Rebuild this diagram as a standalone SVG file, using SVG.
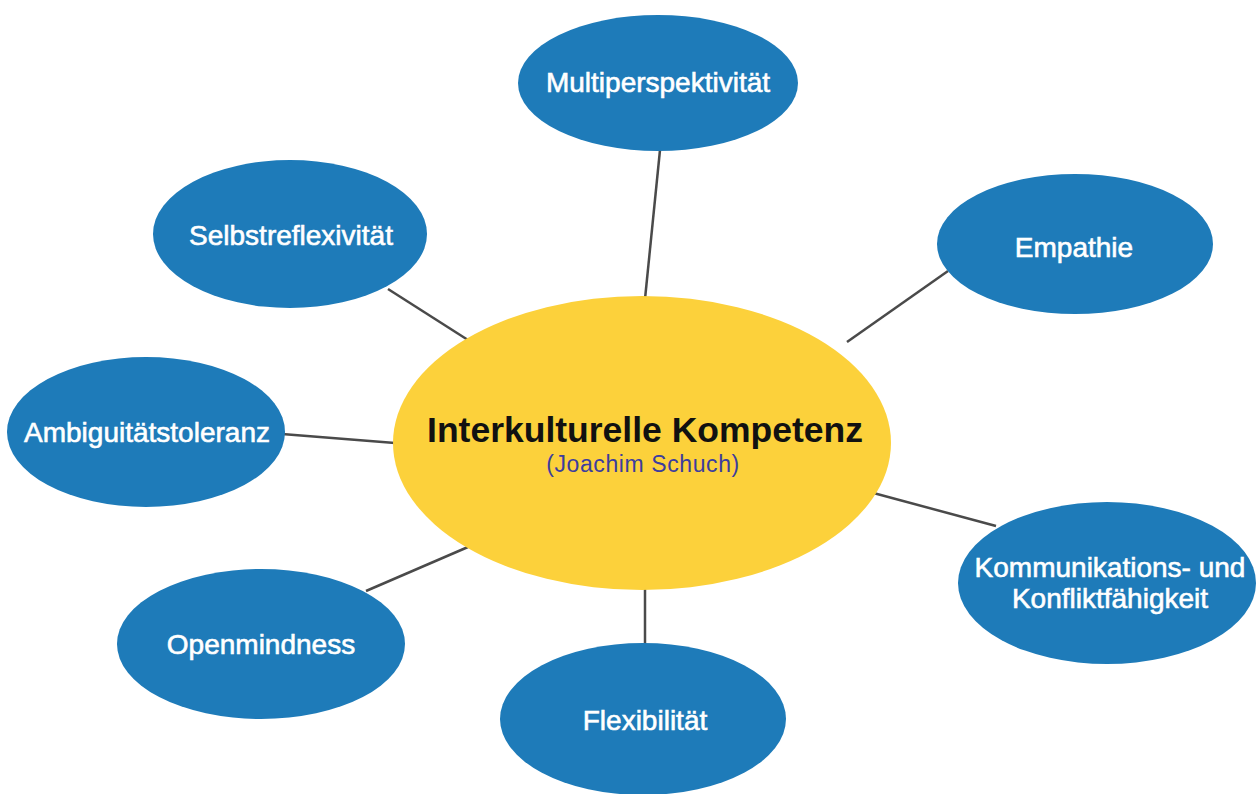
<svg xmlns="http://www.w3.org/2000/svg" width="1258" height="794" viewBox="0 0 1258 794">
<style>
.n{fill:#1e7bb9}
.t{font-family:"Liberation Sans",Arial,sans-serif;font-size:28px;fill:#fff;stroke:#fff;stroke-width:0.6px;text-anchor:middle}
.c{stroke:#4a4a4a;stroke-width:2.5;fill:none}
</style>
<rect width="1258" height="794" fill="#fff"/>
<g id="connectors">
<line class="c" x1="660" y1="150" x2="645" y2="299"/>
<line class="c" x1="388" y1="289" x2="468" y2="340"/>
<line class="c" x1="948" y1="271" x2="847" y2="342"/>
<line class="c" x1="282" y1="434" x2="395" y2="443"/>
<line class="c" x1="866" y1="491" x2="996" y2="526"/>
<line class="c" x1="366" y1="591" x2="468" y2="547"/>
<line class="c" x1="645" y1="588" x2="645" y2="645"/>
</g>
<g id="center">
<ellipse cx="642" cy="443" rx="249" ry="147" fill="#fcd13b"/>
<text x="645" y="442" font-family="Liberation Sans,Arial,sans-serif" font-size="35.5" font-weight="bold" fill="#111" text-anchor="middle">Interkulturelle Kompetenz</text>
<text x="643" y="472" font-family="Liberation Sans,Arial,sans-serif" font-size="23" fill="#3d3d9e" text-anchor="middle" letter-spacing="0.6">(Joachim Schuch)</text>
</g>
<g id="multiperspektivitaet">
<ellipse class="n" cx="658" cy="83" rx="140" ry="68"/>
<text class="t" x="658" y="92">Multiperspektivität</text>
</g>
<g id="selbstreflexivitaet">
<ellipse class="n" cx="290" cy="234" rx="137" ry="74"/>
<text class="t" x="291" y="245">Selbstreflexivität</text>
</g>
<g id="empathie">
<ellipse class="n" cx="1075" cy="244" rx="138" ry="70"/>
<text class="t" x="1074" y="257">Empathie</text>
</g>
<g id="ambiguitaetstoleranz">
<ellipse class="n" cx="146" cy="432" rx="139" ry="75"/>
<text class="t" x="147" y="442">Ambiguitätstoleranz</text>
</g>
<g id="kommunikation">
<ellipse class="n" cx="1107" cy="583" rx="149" ry="81"/>
<text class="t" x="1110" y="577">Kommunikations- und</text>
<text class="t" x="1110" y="608">Konfliktfähigkeit</text>
</g>
<g id="openmindness">
<ellipse class="n" cx="261" cy="644" rx="144" ry="75"/>
<text class="t" x="261" y="654">Openmindness</text>
</g>
<g id="flexibilitaet">
<ellipse class="n" cx="643" cy="719" rx="143" ry="76"/>
<text class="t" x="645" y="730">Flexibilität</text>
</g>
</svg>
